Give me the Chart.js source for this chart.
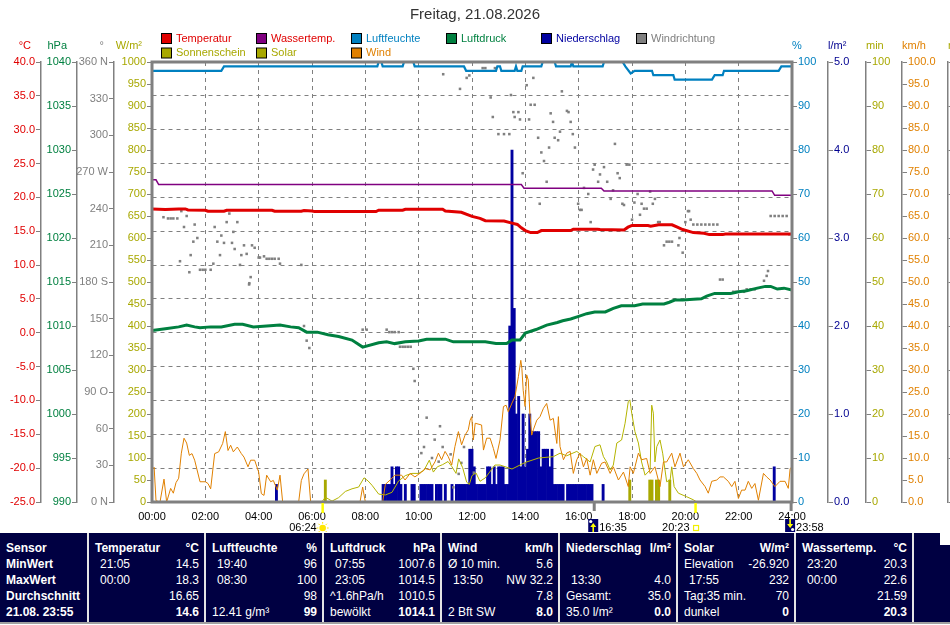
<!DOCTYPE html>
<html lang="de">
<head>
<meta charset="utf-8">
<title>Freitag, 21.08.2026</title>
<script src="https://cdn.jsdelivr.net/npm/chart.js@4.4.1/dist/chart.umd.min.js"></script>
<style>
  html, body { margin:0; padding:0; background:#fff; }
  #wrap { position:relative; width:950px; height:625px; overflow:hidden; font-family:"Liberation Sans", Arial, sans-serif; }
  #chart { position:absolute; left:0; top:0; width:950px; height:532px; }
  #stats { position:absolute; left:0; top:533px; width:940px; height:89px; background:#000042; color:#fff; font-size:12px; }
  #statsTail { position:absolute; left:940px; top:545px; width:10px; height:77px; background:#000042; }
  #bottomLine { position:absolute; left:0; top:622px; width:950px; height:2px; background:#a0a0a0; }
  .col { position:absolute; top:0; height:89px; box-sizing:border-box; padding-top:7px; }
  .sep { border-left:2px solid #e4e4e4; }
  .row { height:16px; line-height:16px; position:relative; white-space:nowrap; }
  .l { position:absolute; left:6px; top:0; }
  .l.ind { left:11px; }
  .r { position:absolute; right:5px; top:0; }
  .b { font-weight:bold; }
</style>
</head>
<body>
<div id="wrap">
  <canvas id="chart" width="950" height="532"></canvas>
  <div id="stats"></div>
  <div id="statsTail"></div>
  <div id="bottomLine"></div>
</div>
<script>
// ---------------- DATA (hours of day, value) ----------------
const temperatur = [[0,18.3],[0.5,18.2],[1,18.3],[1.25,18.3],[1.35,18.15],[2,18.1],[2.1,17.95],[2.7,17.95],[2.8,18.1],[4.5,18.1],[4.6,17.95],[5.6,17.95],[5.7,18.05],[6.0,18.0],[6.1,17.9],[8.4,17.9],[8.5,18.1],[9.4,18.1],[9.5,18.25],[10.9,18.25],[11.0,18.0],[11.6,17.8],[12.0,17.2],[12.3,16.9],[12.5,16.55],[13.2,16.5],[13.5,16.2],[13.7,16.0],[13.85,15.5],[14.0,15.1],[14.2,14.8],[14.45,14.8],[14.6,15.1],[15.7,15.1],[15.8,15.3],[16.7,15.3],[16.8,15.25],[17.7,15.2],[17.85,15.6],[18.0,15.85],[18.6,15.85],[18.7,15.75],[19.0,15.95],[19.5,15.95],[19.7,15.6],[19.9,15.25],[20.3,14.8],[20.7,14.7],[20.9,14.5],[21.4,14.5],[21.5,14.6],[24,14.6]];

const wassertemp = [[0,22.6],[0.15,22.6],[0.25,21.9],[13.85,21.9],[13.95,21.35],[16.85,21.35],[16.95,20.95],[23.25,20.95],[23.35,20.3],[24,20.3]];

const luftfeuchte = [[0,98],[2.6,98],[2.7,99],[8.45,99],[8.5,100],[8.6,100],[8.65,99],[9.4,99],[9.45,100],[9.8,100],[9.85,99],[11.7,99],[11.78,98],[12.9,98],[12.95,99],[13.05,99],[13.1,98],[13.6,98],[13.65,99],[13.7,98],[13.85,98],[13.9,99],[14.6,99],[14.65,100],[15.1,100],[15.15,99],[15.7,99],[15.75,100],[15.8,99],[16.9,99],[16.95,100],[17.65,100],[17.75,99],[17.95,97.4],[18.1,98],[18.75,98],[18.8,97],[19.55,97],[19.6,96],[21.0,96],[21.1,97],[21.4,97],[21.45,98],[23.5,98],[23.6,99],[24,99]];

const luftdruck = [[0,1009.5],[0.5,1009.7],[1.0,1009.9],[1.3,1010.1],[1.6,1009.9],[1.8,1009.8],[2.2,1009.9],[2.6,1009.9],[3.1,1010.2],[3.4,1010.2],[3.8,1009.9],[4.3,1010.0],[4.8,1010.1],[5.2,1009.9],[5.5,1009.8],[5.8,1009.3],[6.2,1009.3],[6.6,1009.0],[7.0,1008.8],[7.5,1008.4],[7.9,1007.6],[8.5,1008.1],[8.8,1008.2],[9.1,1008.0],[9.5,1008.2],[10.0,1008.3],[10.3,1008.5],[11.0,1008.5],[11.3,1008.2],[12.5,1008.2],[12.9,1008.0],[13.3,1008.0],[13.5,1008.4],[13.8,1008.4],[14.0,1009.2],[14.4,1009.6],[14.8,1010.1],[15.2,1010.4],[15.4,1010.6],[15.7,1010.8],[16.0,1011.1],[16.3,1011.4],[16.6,1011.6],[17.0,1011.6],[17.3,1012.0],[17.6,1012.3],[18.1,1012.3],[18.4,1012.5],[19.2,1012.5],[19.4,1012.7],[19.6,1012.95],[19.9,1012.95],[20.3,1013.05],[20.6,1013.1],[20.8,1013.4],[21.1,1013.7],[21.7,1013.7],[22.0,1013.9],[22.3,1014.0],[22.7,1014.3],[23.0,1014.5],[23.2,1014.5],[23.45,1014.2],[23.7,1014.3],[24.0,1014.1]];

const windgeschw = [[0,7.3],[0.08,7.9],[0.15,0.3],[0.3,0],[0.45,5.2],[0.55,0],[0.7,3.1],[0.8,2.0],[0.9,4.4],[1.0,5.4],[1.1,11.1],[1.2,14.5],[1.3,13.4],[1.4,10.6],[1.5,11.0],[1.6,9.5],[1.8,4.6],[2.0,4.6],[2.1,4.2],[2.2,3.0],[2.35,11.0],[2.5,11.4],[2.65,13.3],[2.75,16.0],[2.85,11.7],[2.95,12.9],[3.05,11.4],[3.2,12.5],[3.35,11.0],[3.45,10.2],[3.6,8.0],[3.7,9.5],[3.85,9.5],[4.0,6.8],[4.1,1.9],[4.2,1.5],[4.3,6.1],[4.45,4.6],[4.55,4.9],[4.7,2.7],[4.8,6.1],[4.9,0],[5.5,0],[5.6,4.9],[5.7,6.4],[5.85,7.5],[5.95,0],[7.8,0],[7.9,3.4],[8.0,0],[8.65,0],[8.75,4.0],[8.93,5.0],[9.11,6.1],[9.36,6.1],[9.49,5.0],[9.68,6.5],[9.86,5.7],[10.11,6.8],[10.24,7.6],[10.43,7.3],[10.61,9.1],[10.74,11.1],[10.86,9.6],[10.99,11.5],[11.11,10.3],[11.24,8.4],[11.36,12.6],[11.49,16.0],[11.61,13.0],[11.74,15.2],[11.86,16.4],[11.93,18.6],[11.99,19.4],[12.05,14.1],[12.12,17.9],[12.36,17.5],[12.43,11.8],[12.55,14.5],[12.68,14.5],[12.8,12.2],[12.9,9.9],[13.05,14.1],[13.18,21.7],[13.28,22.0],[13.36,20.5],[13.5,22.5],[13.61,23.9],[13.74,28.5],[13.83,32.2],[13.87,30.4],[13.92,25.4],[13.99,21.7],[14.05,28.9],[14.11,27.7],[14.17,20.2],[14.24,15.2],[14.3,16.4],[14.43,18.6],[14.55,19.4],[14.68,21.3],[14.8,22.4],[14.93,18.6],[15.05,19.0],[15.18,13.3],[15.24,19.4],[15.3,12.6],[15.43,9.6],[15.55,11.1],[15.68,11.5],[15.8,6.5],[15.93,9.6],[16.05,11.1],[16.18,8.0],[16.3,9.9],[16.43,6.1],[16.55,9.6],[16.68,6.5],[16.86,8.8],[16.99,9.1],[17.18,6.5],[17.3,8.0],[17.49,5.0],[17.68,6.8],[17.86,3.5],[17.93,8.0],[18.05,6.5],[18.24,11.1],[18.36,9.6],[18.55,9.9],[18.68,6.5],[18.86,8.0],[19.05,3.5],[19.18,9.1],[19.3,9.1],[19.49,11.1],[19.61,8.0],[19.8,11.1],[19.93,8.0],[20.11,9.6],[20.3,7.6],[20.43,6.5],[20.55,5.0],[20.74,3.5],[20.86,2.0],[20.99,4.7],[21.18,5.0],[21.3,5.7],[21.43,5.7],[21.61,4.7],[21.74,3.5],[21.86,4.7],[21.99,0.8],[22.11,2.7],[22.24,2.7],[22.36,4.7],[22.49,3.1],[22.61,4.2],[22.74,0.4],[22.93,6.5],[23.05,5.7],[23.18,5.0],[23.36,3.5],[23.55,4.7],[23.74,4.7],[23.86,3.1],[23.93,7.6],[24,8.0]];

const solar = [[6.37,0],[6.5,11],[6.75,2],[7.0,10],[7.25,24],[7.5,30],[7.75,34],[7.95,55],[8.1,48],[8.25,38],[8.5,18],[8.75,16],[9.0,22],[9.25,48],[9.5,60],[9.75,65],[10.0,65],[10.2,72],[10.4,95],[10.55,68],[10.7,80],[10.9,85],[11.1,92],[11.25,80],[11.4,65],[11.5,98],[11.65,78],[11.8,45],[11.9,40],[12.0,60],[12.15,66],[12.3,47],[12.5,55],[12.86,84],[13.05,84],[13.5,75],[14.0,90],[14.5,100],[15.05,103],[15.3,111],[15.55,105],[15.93,115],[16.18,103],[16.43,91],[16.61,126],[16.8,130],[16.93,103],[17.05,91],[17.18,73],[17.3,84],[17.43,134],[17.61,141],[17.74,179],[17.86,228],[17.92,232],[17.99,202],[18.11,160],[18.24,134],[18.36,91],[18.49,61],[18.68,73],[18.74,220],[18.8,202],[18.86,91],[18.93,126],[19.05,141],[19.15,111],[19.3,46],[19.43,50],[19.49,80],[19.58,35],[19.74,20],[20.05,12],[20.3,5],[20.43,0]];

const windrichtung = [[0.0,147],[0.43,233],[0.6,232],[0.7,232],[0.8,232],[0.95,232],[1.05,197],[1.1,238],[1.2,225],[1.3,234],[1.4,188],[1.45,202],[1.55,213],[1.6,227],[1.7,216],[1.8,190],[1.9,190],[2.0,190],[2.2,190],[2.3,195],[2.35,225],[2.45,213],[2.55,202],[2.6,218],[2.7,212],[2.8,229],[2.9,236],[3.0,212],[3.05,221],[3.1,207],[3.2,229],[3.3,194],[3.35,202],[3.45,210],[3.55,203],[3.64,178],[3.65,179],[3.7,184],[3.75,210],[3.85,208],[4.0,200],[4.05,200],[4.2,201],[4.3,199],[4.4,199],[4.5,199],[4.6,199],[4.75,199],[4.8,195],[5.6,194],[5.7,144],[5.8,132],[5.9,126],[7.9,141],[8.05,141],[8.8,141],[8.9,139],[9.0,139],[9.1,139],[9.25,139],[9.3,127],[9.4,127],[9.5,127],[9.6,127],[9.7,127],[9.8,109],[9.85,99],[10.1,40],[10.2,45],[10.3,69],[10.5,36],[10.6,51],[10.75,33],[10.8,62],[10.9,45],[10.92,350],[11.2,39],[11.3,12],[11.5,23],[11.55,338],[11.6,32],[11.7,45],[11.8,347],[11.9,349],[12.07,24],[12.4,355],[12.5,355],[12.7,331],[12.78,315],[12.86,355],[12.99,301],[13.2,301],[13.4,301],[13.46,333],[13.55,319],[13.6,315],[13.74,319],[13.8,313],[13.9,269],[14.05,341],[14.14,313],[14.2,325],[14.3,347],[14.35,325],[14.48,298],[14.54,244],[14.6,286],[14.7,279],[14.8,262],[14.89,290],[14.95,318],[15.04,311],[15.1,298],[15.23,296],[15.3,303],[15.37,336],[15.56,320],[15.62,319],[15.7,311],[15.78,301],[15.86,290],[15.98,244],[16.05,239],[16.11,239],[16.2,257],[16.36,252],[16.45,229],[16.54,272],[16.6,276],[16.73,262],[16.8,268],[16.95,274],[17.07,262],[17.2,248],[17.29,255],[17.36,293],[17.46,269],[17.54,265],[17.64,244],[17.7,243],[17.8,276],[17.9,276],[18.0,231],[18.09,245],[18.21,252],[18.3,235],[18.36,244],[18.45,240],[18.55,240],[18.68,254],[18.78,244],[18.86,248],[18.98,229],[19.04,229],[19.2,210],[19.3,213],[19.4,213],[19.5,213],[19.74,210],[19.78,216],[19.9,204],[20.0,229],[20.1,238],[20.14,238],[20.2,231],[20.3,227],[20.45,227],[20.6,227],[20.75,227],[20.9,227],[21.05,227],[21.2,227],[21.3,182],[21.4,182],[21.8,172],[21.9,172],[22.0,172],[22.2,172],[22.3,174],[22.45,174],[22.6,174],[22.95,181],[23.05,185],[23.1,189],[23.2,234],[23.35,234],[23.5,234],[23.65,234],[23.8,234],[23.9,219]];

// 5-minute rain amounts (l/m²), only non-zero slots
const niederschlag = [["04:40",0.2],["08:40",0.2],["08:45",0.2],["08:50",0.2],["08:55",0.2],["09:00",0.4],["09:05",0.2],["09:10",0.4],["09:15",0.4],["09:20",0.2],["09:30",0.2],["09:45",0.2],["09:50",0.2],["10:05",0.2],["10:10",0.2],["10:15",0.2],["10:20",0.2],["10:25",0.2],["10:30",0.2],["10:40",0.2],["10:45",0.2],["10:50",0.2],["11:00",0.2],["11:15",0.2],["11:25",0.2],["11:30",0.2],["11:35",0.2],["11:40",0.2],["11:45",0.2],["11:50",0.2],["11:55",0.6],["12:00",0.6],["12:05",0.4],["12:10",0.2],["12:15",0.2],["12:20",0.2],["12:25",0.2],["12:30",0.2],["12:35",0.4],["12:40",0.4],["12:45",0.2],["12:50",0.4],["12:55",0.2],["13:00",0.4],["13:05",0.4],["13:10",0.4],["13:15",0.2],["13:20",0.2],["13:25",2.0],["13:30",4.0],["13:35",2.2],["13:40",1.0],["13:45",1.2],["13:50",0.4],["13:55",1.0],["14:00",0.4],["14:05",0.6],["14:10",1.0],["14:15",0.8],["14:20",0.8],["14:25",0.8],["14:30",0.8],["14:35",0.4],["14:40",0.6],["14:45",0.6],["14:50",0.6],["14:55",0.4],["15:00",0.6],["15:05",0.2],["15:10",0.2],["15:15",0.2],["15:20",0.2],["15:25",0.2],["15:35",0.2],["15:40",0.2],["15:45",0.2],["15:50",0.2],["15:55",0.2],["16:00",0.2],["16:05",0.2],["16:10",0.2],["16:15",0.2],["16:20",0.2],["16:25",0.2],["16:30",0.2],["16:55",0.2],["23:20",0.4]];

// sunshine minutes per 5-minute slot
const sonnenschein = [["06:30",5],["17:55",5],["18:40",5],["18:45",5],["18:55",5],["19:00",5],["19:25",5]];

const sunMoonEvents = [
  {time:"06:24", kind:"sunrise"},
  {time:"16:35", kind:"moonrise"},
  {time:"20:23", kind:"sunset"},
  {time:"23:58", kind:"moonset"}
];

const hourTicks = [0,2,4,6,8,10,12,14,16,18,20,22,24];
const legendOrder = ["Temperatur","Wassertemp.","Luftfeuchte","Luftdruck","Niederschlag","Windrichtung","Sonnenschein","Solar","Wind"];
const axisTitles = {tC:"°C", hPa:"hPa", dir:"°", wm2:"W/m²", rh:"%", rain:"l/m²", sun:"min", wind:"km/h", sun2:"min"};
const dirNames = {360:"360 N", 270:"270 W", 180:"180 S", 90:"90 O", 0:"0 N"};

const statsColX = [0,87,204,322,440,558,676,794,912,940];
const statsColumns = [
  {head:["Sensor",""], rows:[["MinWert",""],["MaxWert",""],["Durchschnitt",""],["21.08. 23:55",""]]},
  {head:["Temperatur","°C"], rows:[["21:05","14.5"],["00:00","18.3"],["","16.65"],["","14.6"]]},
  {head:["Luftfeuchte","%"], rows:[["19:40","96"],["08:30","100"],["","98"],["12.41 g/m³","99"]]},
  {head:["Luftdruck","hPa"], rows:[["07:55","1007.6"],["23:05","1014.5"],["^1.6hPa/h","1010.5"],["bewölkt","1014.1"]]},
  {head:["Wind","km/h"], rows:[["Ø 10 min.","5.6"],["13:50","NW 32.2"],["","7.8"],["2 Bft SW","8.0"]]},
  {head:["Niederschlag","l/m²"], rows:[["",""],["13:30","4.0"],["Gesamt:","35.0"],["35.0 l/m²","0.0"]]},
  {head:["Solar","W/m²"], rows:[["Elevation","-26.920"],["17:55","232"],["Tag:35 min.","70"],["dunkel","0"]]},
  {head:["Wassertemp.","°C"], rows:[["23:20","20.3"],["00:00","22.6"],["","21.59"],["","20.3"]]},
  {head:["",""], rows:[["",""],["",""],["",""],["",""]]}
];

// ---------------- helpers ----------------
const toH = s => { const p = s.split(":").map(Number); return p[0] + p[1] / 60; };
const pts = arr => arr.map(([x, y]) => ({x: typeof x === "string" ? toH(x) : x, y}));
const FONT = "'Liberation Sans', Arial, sans-serif";
const GRID = "#808080";
Chart.defaults.font.family = FONT;
Chart.defaults.font.size = 11;

function yScale(o) {
  return {
    type: "linear", position: o.pos, weight: o.weight, min: o.min, max: o.max, stacked: false,
    ticks: {stepSize: o.step, color: o.color, autoSkip: false, padding: 1, font: {size: 11}, callback: o.fmt},
    grid: {drawOnChartArea: !!o.grid, drawTicks: true, tickLength: 5, color: GRID, tickColor: GRID, lineWidth: 1},
    border: {display: true, color: GRID, width: 1.5, dash: o.grid ? [4, 4] : []},
    afterFit: s => { s.width = o.width; }
  };
}

// ---------------- plugins ----------------
const framePlugin = {
  id: "frame",
  afterDatasetsDraw(chart) {
    const {ctx, chartArea: a} = chart;
    ctx.save();
    ctx.strokeStyle = "#808080";
    ctx.lineWidth = 3;
    ctx.strokeRect(a.left, a.top, a.right - a.left, a.bottom - a.top);
    ctx.restore();
  }
};

const decorPlugin = {
  id: "decor",
  afterDraw(chart) {
    const ctx = chart.ctx;
    ctx.save();
    ctx.font = "11px " + FONT;
    ctx.textBaseline = "middle";
    // axis titles
    for (const id in axisTitles) {
      const s = chart.scales[id];
      if (!s) continue;
      ctx.fillStyle = s.options.ticks.color;
      if (s.options.position === "left") { ctx.textAlign = "right"; ctx.fillText(axisTitles[id], s.right - 10, 46); }
      else { ctx.textAlign = "left"; ctx.fillText(axisTitles[id], s.left, 46); }
    }
    // legend grid
    ctx.textAlign = "left";
    legendOrder.forEach((label, i) => {
      const ds = chart.data.datasets.find(d => d.label === label);
      if (!ds) return;
      const col = i % 6, row = Math.floor(i / 6);
      const x = 161 + col * 95, y = 33 + row * 14.5;
      ctx.fillStyle = ds.legendColor;
      ctx.fillRect(x + 0.5, y + 0.5, 10, 10);
      ctx.strokeStyle = "#000"; ctx.lineWidth = 1;
      ctx.strokeRect(x + 0.5, y + 0.5, 10, 10);
      ctx.fillStyle = ds.legendTextColor;
      ctx.fillText(label, x + 15, y + 5.5);
    });
    // sun / moon events
    const xs = chart.scales.x, bottom = chart.chartArea.bottom, ty = 528;
    for (const ev of sunMoonEvents) {
      const x = xs.getPixelForValue(toH(ev.time));
      if (ev.kind === "sunrise" || ev.kind === "sunset") {
        ctx.strokeStyle = "#ffff00"; ctx.lineWidth = 2.5;
        ctx.beginPath(); ctx.moveTo(x, bottom + 1); ctx.lineTo(x, bottom + 11); ctx.stroke();
        ctx.fillStyle = "#000"; ctx.textAlign = "right";
        ctx.fillText(ev.time, x - 6, ty);
        if (ev.kind === "sunrise") {
          ctx.fillStyle = "#ffe600";
          ctx.beginPath(); ctx.arc(x, ty, 3.3, 0, Math.PI * 2); ctx.fill();
          ctx.strokeStyle = "#ffe600"; ctx.lineWidth = 1;
          for (let k = 0; k < 8; k++) {
            const an = k * Math.PI / 4;
            ctx.beginPath();
            ctx.moveTo(x + Math.cos(an) * 4.3, ty + Math.sin(an) * 4.3);
            ctx.lineTo(x + Math.cos(an) * 6, ty + Math.sin(an) * 6);
            ctx.stroke();
          }
        } else {
          ctx.strokeStyle = "#f0f000"; ctx.lineWidth = 1.2;
          ctx.strokeRect(x - 2, ty - 2.5, 5, 5);
        }
      } else {
        ctx.strokeStyle = "#808080"; ctx.lineWidth = 3;
        ctx.beginPath(); ctx.moveTo(x, bottom + 1); ctx.lineTo(x, bottom + 9); ctx.stroke();
        ctx.fillStyle = "#00006a";
        ctx.fillRect(x - 6, 519, 10, 13);
        ctx.fillStyle = "#ffffff";
        ctx.beginPath();
        if (ev.kind === "moonrise") ctx.arc(x - 3.5, 521.5, 1.6, 0, Math.PI * 2);
        else ctx.arc(x + 1.5, 529.5, 1.6, 0, Math.PI * 2);
        ctx.fill();
        ctx.fillStyle = "#ffff00";
        ctx.beginPath();
        if (ev.kind === "moonrise") {
          ctx.moveTo(x - 1, 523); ctx.lineTo(x + 2, 527); ctx.lineTo(x - 4, 527); ctx.closePath();
          ctx.fill(); ctx.fillRect(x - 1.8, 527, 1.6, 5);
        } else {
          ctx.moveTo(x - 1, 528); ctx.lineTo(x + 2, 524); ctx.lineTo(x - 4, 524); ctx.closePath();
          ctx.fill(); ctx.fillRect(x - 1.8, 519, 1.6, 5);
        }
        ctx.fillStyle = "#000"; ctx.textAlign = "left";
        ctx.fillText(ev.time, x + 5, ty);
      }
    }
    ctx.restore();
  }
};

// ---------------- chart ----------------
const lineDs = (label, data, axis, color, width, order, extra) => Object.assign({
  type: "line", label, data: pts(data), xAxisID: "x", yAxisID: axis,
  borderColor: color, backgroundColor: color, borderWidth: width, pointRadius: 0,
  tension: 0, fill: false, order, legendColor: color, legendTextColor: color
}, extra || {});

new Chart(document.getElementById("chart"), {
  type: "line",
  data: {
    datasets: [
      lineDs("Temperatur", temperatur, "tC", "#e00000", 3, 1),
      lineDs("Wassertemp.", wassertemp, "tC", "#800080", 1.5, 2, {legendTextColor: "#e00000"}),
      lineDs("Luftfeuchte", luftfeuchte, "rh", "#0080c0", 2.2, 3),
      lineDs("Luftdruck", luftdruck, "hPa", "#008040", 3, 4),
      {type: "bar", label: "Niederschlag", data: pts(niederschlag), xAxisID: "x", yAxisID: "rain",
       backgroundColor: "#0000a0", borderWidth: 0, barPercentage: 1, categoryPercentage: 1, stack: "bars",
       order: 9, legendColor: "#0000a0", legendTextColor: "#0000a0"},
      lineDs("Windrichtung", windrichtung, "dir", "#808080", 0, 8,
        {showLine: false, pointRadius: 1.8, pointStyle: "rect", pointBackgroundColor: "#808080", pointBorderWidth: 0}),
      {type: "bar", label: "Sonnenschein", data: pts(sonnenschein), xAxisID: "x", yAxisID: "sun",
       backgroundColor: "#a8a800", borderWidth: 0, barPercentage: 1, categoryPercentage: 1, stack: "bars",
       order: 9, legendColor: "#a8a800", legendTextColor: "#a8a800"},
      lineDs("Solar", solar, "wm2", "#b4b400", 1, 7, {legendColor: "#a8a800", legendTextColor: "#a8a800"}),
      lineDs("Wind", windgeschw, "wind", "#e08000", 1, 6)
    ]
  },
  options: {
    responsive: false,
    animation: false,
    events: [],
    layout: {padding: 0},
    plugins: {
      legend: {display: false},
      tooltip: {enabled: false},
      title: {display: true, text: "Freitag, 21.08.2026", color: "#333333",
              font: {size: 15, weight: "normal", family: FONT}, padding: {top: 6, bottom: 38}}
    },
    scales: {
      x: {
        type: "linear", position: "bottom", min: 0, max: 24, offset: false,
        afterBuildTicks: s => { s.ticks = hourTicks.map(v => ({value: v})); },
        ticks: {color: "#000", padding: 8, maxRotation: 0, autoSkip: false, font: {size: 11},
                callback: v => String(v).padStart(2, "0") + ":00"},
        grid: {color: GRID, drawTicks: false, lineWidth: 1, offset: false},
        border: {display: false, dash: [4, 4]},
        afterFit: s => { s.height = 30; }
      },
      wm2: yScale({pos: "left", weight: 1, min: 0, max: 1000, step: 50, color: "#a8a800", width: 38, fmt: v => String(v)}),
      dir: yScale({pos: "left", weight: 2, min: 0, max: 360, step: 30, color: "#808080", width: 37, fmt: v => dirNames[v] || String(v)}),
      hPa: yScale({pos: "left", weight: 3, min: 990, max: 1040, step: 5, color: "#008040", width: 36, fmt: v => String(v)}),
      tC: yScale({pos: "left", weight: 4, min: -25, max: 40, step: 5, color: "#e00000", width: 41, grid: true, fmt: v => v.toFixed(1)}),
      rh: yScale({pos: "right", weight: 1, min: 0, max: 100, step: 10, color: "#0080c0", width: 36, fmt: v => String(v)}),
      rain: yScale({pos: "right", weight: 2, min: 0, max: 5, step: 1, color: "#000090", width: 38, fmt: v => v.toFixed(1)}),
      sun: yScale({pos: "right", weight: 3, min: 0, max: 100, step: 10, color: "#a8a800", width: 36, fmt: v => String(v)}),
      wind: yScale({pos: "right", weight: 4, min: 0, max: 100, step: 5, color: "#e08000", width: 46, fmt: v => v.toFixed(1)}),
      sun2: yScale({pos: "right", weight: 5, min: 0, max: 100, step: 10, color: "#a8a800", width: 2, fmt: v => String(v)})
    }
  },
  plugins: [framePlugin, decorPlugin]
});

// ---------------- statistics table ----------------
const stats = document.getElementById("stats");
const timeRe = /^\d\d:\d\d$/;
statsColumns.forEach((col, ci) => {
  const div = document.createElement("div");
  div.className = "col" + (ci > 0 ? " sep" : "");
  div.style.left = statsColX[ci] + "px";
  div.style.width = (statsColX[ci + 1] - statsColX[ci]) + "px";
  const all = [col.head].concat(col.rows);
  all.forEach((r, ri) => {
    const row = document.createElement("div");
    row.className = "row";
    const l = document.createElement("span");
    l.className = "l" + (timeRe.test(r[0]) ? " ind" : "") + ((ri === 0 || ci === 0) ? " b" : "");
    l.textContent = r[0];
    const rr = document.createElement("span");
    rr.className = "r" + ((ri === 0 || ri === all.length - 1) ? " b" : "");
    rr.textContent = r[1];
    row.appendChild(l); row.appendChild(rr);
    div.appendChild(row);
  });
  stats.appendChild(div);
});
</script>
</body>
</html>
